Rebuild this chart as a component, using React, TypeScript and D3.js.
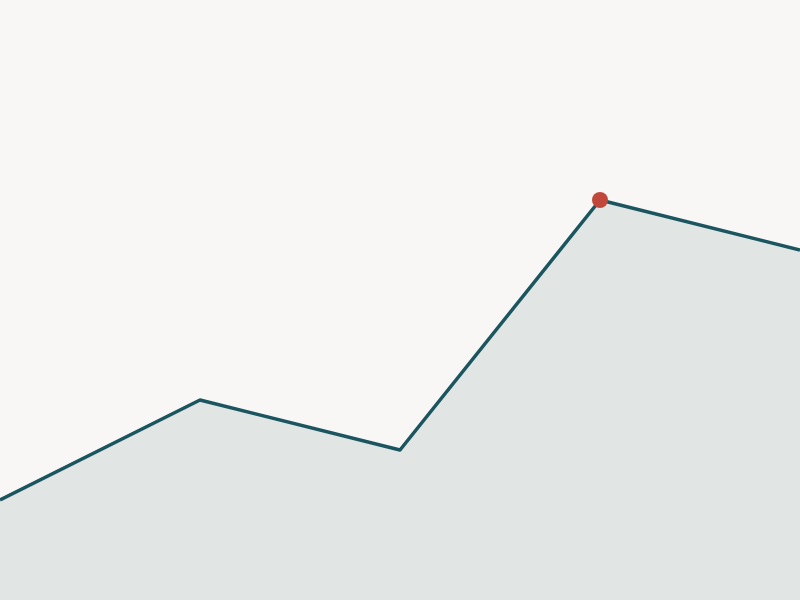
import { useEffect, useRef } from "react"
import * as d3 from "d3"

const steps = [0, 1, 2, 3, 4]
const values = [100, 200, 150, 400, 350]
const peakIndex = 3

const W = 800
const H = 600

export default function App() {
  const svgRef = useRef<SVGSVGElement>(null)

  useEffect(() => {
    document.body.style.margin = "0"
    d3.select(svgRef.current).selectAll("*").remove()
    if (!svgRef.current) return
    const svg = d3.select(svgRef.current)

    const xScale = d3.scaleLinear().domain([0, 4]).range([0, W])
    const yScale = d3.scaleLinear().domain([0, 600]).range([H, 0])

    svg.append("rect")
      .attr("width", W)
      .attr("height", H)
      .attr("fill", "#f8f7f5")

    const area = d3.area<number>()
      .x((d, i) => xScale(steps[i]))
      .y0(H)
      .y1(d => yScale(d))

    svg.append("path")
      .datum(values)
      .attr("fill", "#e1e5e4")
      .attr("d", area)

    const line = d3.line<number>()
      .x((d, i) => xScale(steps[i]))
      .y(d => yScale(d))

    svg.append("path")
      .datum(values)
      .attr("fill", "none")
      .attr("stroke", "#1b5560")
      .attr("stroke-width", 3.5)
      .attr("stroke-linejoin", "round")
      .attr("d", line)

    svg.append("circle")
      .attr("cx", xScale(steps[peakIndex]))
      .attr("cy", yScale(values[peakIndex]))
      .attr("r", 8)
      .attr("fill", "#c0473a")
  }, [])

  return (
    <svg ref={svgRef} width={W} height={H} style={{ display: "block" }}></svg>
  )
}
